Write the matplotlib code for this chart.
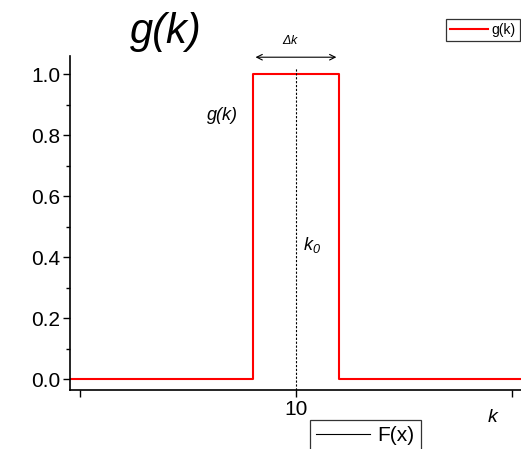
import numpy as np
import matplotlib
matplotlib.use('Agg')
from matplotlib import pyplot as plt
from matplotlib.ticker import FixedLocator, FixedFormatter, MultipleLocator, FormatStrFormatter

plt.rcParams['font.family'] = ['Liberation Sans', 'DejaVu Sans']
plt.rcParams['mathtext.fontset'] = 'custom'
plt.rcParams['mathtext.it'] = 'Liberation Sans:italic'
plt.rcParams['mathtext.rm'] = 'Liberation Sans:italic'

# datos del pulso cuadrado g(k)
k = [-0.5, 8, 8, 12, 12, 20.5]
g = [0.0, 0.0, 1.0, 1.0, 0.0, 0.0]
k0 = 10
k_izq = 8
k_der = 12
xticks = [0, 10, 20]
xticklabels = ['', '10', '']

fig = plt.figure(figsize=(5.21, 4.49), dpi=100)
ax = fig.add_axes([0.1344, 0.1314, 0.8656, 0.7439])

ax.plot(k, g, color='red', lw=1.5, label='g(k)')
ax.plot([k0, k0], [-0.036, 1.02], color='k', ls=(0, (2, 1.5)), lw=0.8, clip_on=False)
F, = ax.plot([], [], color='k', lw=0.8, label='F(x)')

ax.set_xlim(-0.46, 20.42)
ax.set_ylim(-0.036, 1.06)

ax.spines['top'].set_visible(False)
ax.spines['right'].set_visible(False)
ax.spines['left'].set_linewidth(1.2)
ax.spines['bottom'].set_linewidth(1.2)

ax.xaxis.set_major_locator(FixedLocator(xticks))
ax.xaxis.set_major_formatter(FixedFormatter(xticklabels))
ax.yaxis.set_major_locator(MultipleLocator(0.2))
ax.yaxis.set_minor_locator(MultipleLocator(0.1))
ax.tick_params(axis='both', which='major', direction='out', length=5, width=1, labelsize=15, pad=2)
ax.tick_params(axis='y', which='minor', direction='out', length=3, width=1)
ax.yaxis.set_major_formatter(FormatStrFormatter('%.1f'))

# flecha delta k
ax.annotate('', xy=(k_izq, 1.056), xytext=(k_der, 1.056),
            arrowprops=dict(arrowstyle='<->', color='k', lw=0.8), annotation_clip=False)
ax.text(k0 - 0.25, 1.11, r'$\Delta k$', fontsize=9, ha='center', va='center', clip_on=False)

ax.text(6.6, 0.865, 'g(k)', fontsize=13, style='italic', ha='center', va='center')
ax.text(10.75, 0.44, r'$k_0$', fontsize=13, ha='center', va='center')

fig.text(166 / 521, 1 - 32 / 449, 'g(k)', fontsize=30, style='italic', ha='center', va='center')
fig.text(493 / 521, 1 - 418 / 449, 'k', fontsize=14, style='italic', ha='center', va='center')

leg1 = ax.legend(handles=[ax.lines[0]], loc='upper right', bbox_to_anchor=(520 / 521, 1 - 19 / 449),
                 bbox_transform=fig.transFigure, fontsize=10, frameon=True, fancybox=False,
                 edgecolor='#333333', framealpha=1, borderpad=0.3, handlelength=2.7, handletextpad=0.3,
                 borderaxespad=0)
leg1.get_frame().set_linewidth(0.9)
ax.add_artist(leg1)

leg2 = ax.legend(handles=[F], loc='upper left', bbox_to_anchor=(310 / 521, 1 - 420 / 449),
                 bbox_transform=fig.transFigure, fontsize=15, frameon=True, fancybox=False,
                 edgecolor='#333333', framealpha=1, borderpad=0.3, handlelength=2.6, handletextpad=0.35,
                 borderaxespad=0)
leg2.get_frame().set_linewidth(0.9)

plt.savefig('out.png', dpi=100)
